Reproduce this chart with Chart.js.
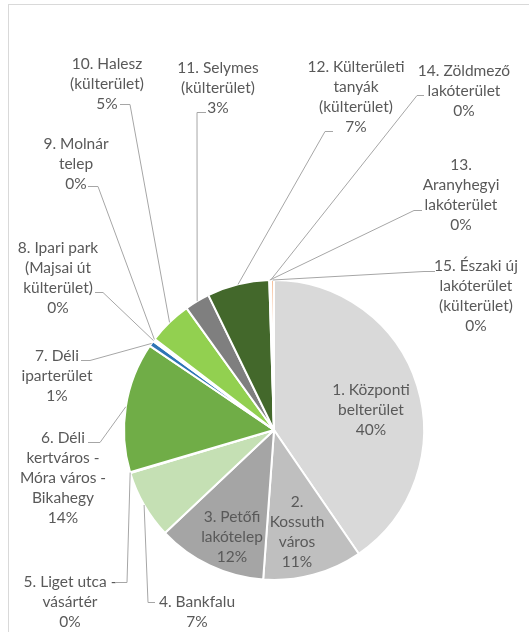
<!DOCTYPE html>
<html><head><meta charset="utf-8">
<script src="https://cdn.jsdelivr.net/npm/chart.js@4.4.1/dist/chart.umd.min.js"></script>
<style>html,body{margin:0;padding:0;background:#fff;overflow:hidden}canvas{display:block}</style>
</head><body>
<canvas id="c" width="529" height="632"></canvas>
<script>
// ---- data ----
const categories = [
  ['1. Központi','belterület'],
  ['2.','Kossuth','város'],
  ['3. Petőfi','lakótelep'],
  ['4. Bankfalu'],
  ['5. Liget utca -','vásártér'],
  ['6. Déli','kertváros -','Móra város -','Bikahegy'],
  ['7. Déli','iparterület'],
  ['8. Ipari park','(Majsai út','külterület)'],
  ['9. Molnár','telep'],
  ['10. Halesz','(külterület)'],
  ['11. Selymes','(külterület)'],
  ['12. Külterületi','tanyák','(külterület)'],
  ['13.','Aranyhegyi','lakóterület'],
  ['14. Zöldmező','lakóterület'],
  ['15. Északi új','lakóterület','(külterület)']
];
const shares = [40.4,10.7,11.8,7.4,0.1,14.0,0.6,0.15,0.15,4.7,2.7,6.7,0.1,0.1,0.3];

// ---- styles / layout ----
const colors = ['#d9d9d9','#bfbfbf','#a5a5a5','#c5e0b4','#e2f0d9','#70ad47','#2e75b6','#bdd7ee','#deebf7','#92d050','#7f7f7f','#43682b','#fbe5d6','#f8cbad','#f4b183'];
const FONT = '15.5px Lato';
const LH = 20;
const TEXT = '#595959';
// label text position: [centerX, firstLineCenterY]
const labelPos = [
  [371,390],[297,502],[232,517],[197,602],[70,582],[63,438],[57,356],[58,248],
  [76,144],[107,64],[218,68],[356,67],[461,165],[464,71],[476,266]
];
// leader line: [attachX, attachY, elbowX] (null = label inside slice)
const leader = [
  null,null,null,
  [155,602,148],[115,582,127],[88,442,100],[81,360,90],[95,292,103],
  [88,186,98],[120,104,130],[206,112,197],[333,131,325],[422,210,414],[424,95,417],[435,271,424]
];

const labelPlugin = {
  id: 'sliceLabels',
  beforeDraw(chart) {
    const ctx = chart.ctx;
    ctx.save();
    ctx.strokeStyle = '#d9d9d9';
    ctx.lineWidth = 1;
    ctx.strokeRect(8.5, 4.5, 700, 800);
    ctx.restore();
  },
  afterDatasetsDraw(chart) {
    const ctx = chart.ctx;
    const meta = chart.getDatasetMeta(0);
    const total = shares.reduce((a, b) => a + b, 0);
    ctx.save();
    ctx.font = FONT;
    ctx.fillStyle = TEXT;
    ctx.textAlign = 'center';
    ctx.textBaseline = 'middle';
    ctx.strokeStyle = '#a6a6a6';
    ctx.lineWidth = 1;
    meta.data.forEach((arc, i) => {
      const p = arc.getProps(['x','y','startAngle','endAngle','outerRadius'], true);
      const mid = (p.startAngle + p.endAngle) / 2;
      const lines = [...categories[i], Math.round(shares[i] / total * 100) + '%'];
      const [cx, y0] = labelPos[i];
      lines.forEach((t, k) => ctx.fillText(t, cx, y0 + k * LH));
      const L = leader[i];
      if (L) {
        const ex = p.x + Math.cos(mid) * p.outerRadius;
        const ey = p.y + Math.sin(mid) * p.outerRadius;
        ctx.beginPath();
        ctx.moveTo(ex, ey);
        ctx.lineTo(L[2], L[1] + 0.5);
        ctx.lineTo(L[0], L[1] + 0.5);
        ctx.stroke();
      }
    });
    ctx.restore();
  }
};

new Chart(document.getElementById('c'), {
  type: 'pie',
  data: {
    labels: categories.map(c => c.join(' ')),
    datasets: [{
      data: shares,
      backgroundColor: colors,
      borderColor: '#ffffff',
      borderWidth: 2,
      hoverOffset: 0
    }]
  },
  options: {
    responsive: false,
    devicePixelRatio: 1,
    animation: false,
    layout: { padding: { left: 123, right: 104, top: 279, bottom: 51 } },
    plugins: { legend: { display: false }, tooltip: { enabled: false } }
  },
  plugins: [labelPlugin]
});
</script>
</body></html>
